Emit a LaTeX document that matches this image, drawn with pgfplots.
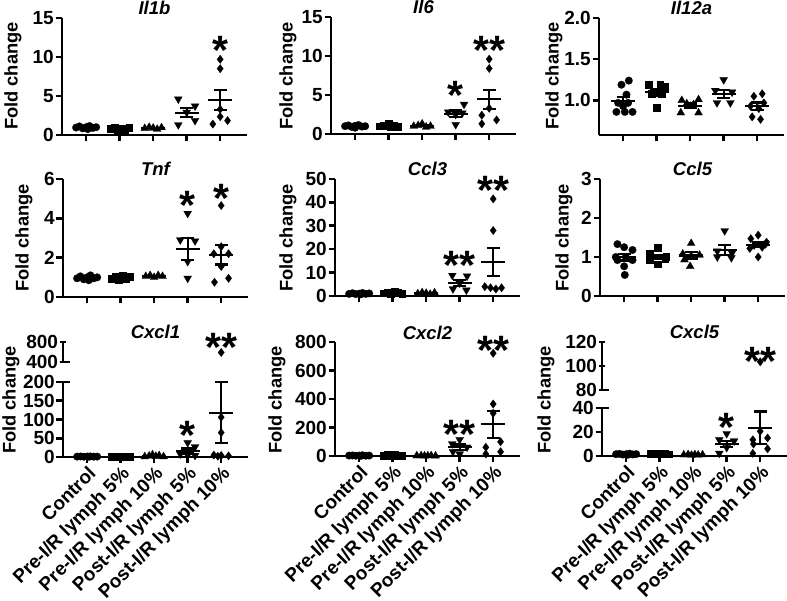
\documentclass[border=0pt]{standalone}
\usepackage{pgfplots}
\pgfplotsset{compat=1.18}
\usepackage{fontspec}
\setmainfont{Liberation Sans}
\newcommand\tickfont{\fontsize{19}{19}\selectfont\bfseries}
\newcommand\labfont{\fontsize{18.3}{20}\selectfont\bfseries}
\newcommand\titfont{\fontsize{18.5}{20}\selectfont\bfseries\itshape}
\newcommand\xlabfont{\fontsize{19}{20}\selectfont\bfseries}
\tikzset{sig/.style={font=\fontsize{41}{41}\selectfont\bfseries, inner sep=0pt, anchor=base, yshift=-22.5pt},
  flab/.style={rotate=90, font=\labfont, inner sep=0pt}}
\pgfplotsset{
 base/.style={scale only axis, width=185pt, xmin=-0.72, xmax=4.8, anchor=south west,
   axis lines=left, axis line style={-, line width=2.6pt}, tick style={line width=2.6pt, black},
   major tick length=6.5pt, tick align=outside, xtick={0,1,2,3,4}, xticklabels={}, clip=false,
   yticklabel style={font=\tickfont, inner sep=1.5pt}, /pgf/number format/assume math mode=true,
   title style={at={(0.5,1)}, anchor=base, yshift=-3pt, font=\titfont}},
 bottomx/.style={xticklabels={Control,Pre-I/R lymph 5\%,Pre-I/R lymph 10\%,Post-I/R lymph 5\%,Post-I/R lymph 10\%},
   xticklabel style={rotate=45, anchor=north east, font=\xlabfont, inner sep=1pt}},
 topseg/.style={axis x line=none, axis y line=left, axis line style={-, line width=2.6pt}, y axis line style={-}},
 brk/.style={extra y ticks={#1}, extra y tick labels={}, extra y tick style={tick align=inside}},
 gm/.style={only marks, black, mark options={fill=black, draw=black, line width=0.2pt}},
 g0/.style={gm, mark=*, mark size=3.8pt},
 g1/.style={gm, mark=square*, mark size=3.4pt},
 g2/.style={gm, mark=triangle*, mark size=4.6pt},
 g3/.style={gm, mark=triangle*, mark size=4.6pt, mark options={rotate=180, fill=black, draw=black, line width=0.2pt}},
 g4/.style={gm, mark=diamond*, mark size=4.2pt},
 ms/.style={only marks, black, mark=-, mark size=12pt, mark options={line width=2.2pt},
   error bars/.cd, y dir=both, y explicit, error bar style={line width=2.2pt, black},
   error mark options={rotate=90, line width=2.2pt, mark size=6.5pt, black}},
}
\begin{document}
\begin{tikzpicture}
\path[use as bounding box] (0,0) rectangle (787pt,601pt);
% ---------------- Row 1 ----------------
\begin{axis}[base, at={(62pt,466pt)}, height=117pt, ymin=0, ymax=15, ytick={0,5,10,15}, title={Il1b}]
\addplot[g0] coordinates {(-0.3,0.95)(-0.2,1.1)(-0.1,0.85)(0,1.0)(0.1,1.15)(0.2,0.9)(0.3,1.0)(0.05,0.75)};
\addplot[g1] coordinates {(0.72,0.8)(0.85,0.95)(0.95,0.65)(1.05,0.85)(1.15,0.7)(1.28,0.9)};
\addplot[g2] coordinates {(1.75,0.85)(1.88,1.0)(2,0.9)(2.12,0.75)(2.25,0.95)};
\addplot[g3] coordinates {(2.75,4.6)(3.25,3.7)(3,2.9)(2.75,1.3)(3.25,1.85)};
\addplot[g4] coordinates {(4,9.7)(4,8.5)(4,3.3)(3.78,1.4)(4,2.35)(4.22,1.85)};
\addplot[ms] coordinates {(0,0.96) +- (0,0.05) (1,0.81) +- (0,0.05) (2,0.89) +- (0,0.04) (3,2.86) +- (0,0.6) (4,4.5) +- (0,1.25)};
\node[sig] at (4,11.9) {*};
\end{axis}
\begin{axis}[base, at={(331pt,467pt)}, height=117pt, ymin=0, ymax=15, ytick={0,5,10,15}, title={Il6}]
\addplot[g0] coordinates {(-0.3,1.0)(-0.2,1.1)(-0.1,0.9)(0,1.05)(0.1,1.15)(0.2,0.95)(0.3,1.0)(0,0.8)};
\addplot[g1] coordinates {(0.72,1.0)(0.85,1.1)(1,1.35)(1.05,0.9)(1.15,1.05)(1.28,0.95)};
\addplot[g2] coordinates {(1.75,1.0)(1.88,1.1)(2,1.3)(2.12,0.9)(2.25,1.0)};
\addplot[g3] coordinates {(3.25,3.8)(2.78,2.8)(3.2,2.7)(3,2.5)(3,1.2)};
\addplot[g4] coordinates {(4,9.6)(4,8.4)(4,3.3)(3.78,2.4)(3.78,1.3)(4.22,1.8)};
\addplot[ms] coordinates {(0,0.99) +- (0,0.04) (1,1.06) +- (0,0.07) (2,1.06) +- (0,0.07) (3,2.6) +- (0,0.42) (4,4.45) +- (0,1.2)};
\node[sig] at (3,6.0) {*};
\node[sig] at (4,11.8) {**};
\end{axis}
\begin{axis}[base, at={(599pt,466pt)}, height=117pt, ymin=0.58, ymax=2.0, ytick={1.0,1.5,2.0},
  yticklabel style={/pgf/number format/fixed, /pgf/number format/fixed zerofill, /pgf/number format/precision=1}, title={Il12a}]
\addplot[g0] coordinates {(0.17,1.24)(-0.05,1.19)(0.1,1.07)(-0.15,0.97)(0.15,0.97)(0,0.93)(-0.2,0.86)(0.05,0.86)(0.28,0.86)};
\addplot[g1] coordinates {(0.75,1.19)(1.1,1.19)(1.25,1.17)(0.85,1.08)(1.15,1.08)(1,0.91)};
\addplot[g2] coordinates {(1.75,1.0)(2.25,1.01)(1.9,0.96)(2.1,0.95)(2,0.93)(1.72,0.85)(2.25,0.85)};
\addplot[g3] coordinates {(3,1.25)(2.75,1.12)(3.25,1.10)(2.8,0.97)(3.2,0.97)};
\addplot[g4] coordinates {(4.15,1.08)(3.9,1.05)(4.2,0.97)(3.8,0.93)(4.05,0.90)(3.85,0.80)(4.1,0.77)};
\addplot[ms] coordinates {(0,0.995) +- (0,0.05) (1,1.10) +- (0,0.04) (2,0.936) +- (0,0.025) (3,1.08) +- (0,0.05) (4,0.93) +- (0,0.045)};
\end{axis}
% ---------------- Row 2 ----------------
\begin{axis}[base, at={(63pt,304pt)}, height=118pt, ymin=0, ymax=6, ytick={0,2,4,6}, title={Tnf}]
\addplot[g0] coordinates {(-0.3,0.95)(-0.2,1.05)(-0.1,0.9)(0,1.0)(0.1,1.1)(0.2,0.95)(0.3,1.0)(0.05,0.85)};
\addplot[g1] coordinates {(0.72,0.95)(0.85,1.05)(0.95,0.9)(1.05,1.1)(1.15,0.95)(1.28,1.05)};
\addplot[g2] coordinates {(1.75,1.05)(1.88,1.1)(2,1.0)(2.12,1.1)(2.25,1.05)};
\addplot[g3] coordinates {(3,4.25)(2.78,2.9)(3.22,2.85)(3,1.8)(3,0.95)};
\addplot[g4] coordinates {(4,4.65)(4,2.56)(3.78,2.2)(4.22,2.2)(4,1.55)(3.8,0.75)(4.22,0.95)};
\addplot[ms] coordinates {(0,0.98) +- (0,0.03) (1,1.0) +- (0,0.03) (2,1.06) +- (0,0.02) (3,2.45) +- (0,0.55) (4,2.15) +- (0,0.5)};
\node[sig] at (3,5.1) {*};
\node[sig] at (4,5.44) {*};
\end{axis}
\begin{axis}[base, at={(335pt,305pt)}, height=117pt, ymin=0, ymax=50, ytick={0,10,20,30,40,50}, title={Ccl3}]
\addplot[g0] coordinates {(-0.3,0.9)(-0.2,1.2)(-0.1,0.8)(0,1.0)(0.1,1.3)(0.2,0.9)(0.3,1.1)(0.05,0.7)};
\addplot[g1] coordinates {(0.72,1.2)(0.85,1.6)(0.95,1.0)(1.05,1.8)(1.15,1.3)(1.28,1.1)};
\addplot[g2] coordinates {(1.75,1.0)(1.88,1.5)(2,1.2)(2.12,0.8)(2.25,1.4)};
\addplot[g3] coordinates {(2.78,8.8)(3.22,8.5)(3,5.5)(2.8,3)(3.2,2.5)};
\addplot[g4] coordinates {(4,41.5)(4,28)(3.75,4)(3.92,3.5)(4.08,3)(4.25,3.5)};
\addplot[ms] coordinates {(0,1.0) +- (0,0.07) (1,1.33) +- (0,0.12) (2,1.18) +- (0,0.13) (3,5.6) +- (0,1.3) (4,14.5) +- (0,6)};
\node[sig] at (3,16.7) {**};
\node[sig] at (4,48.8) {**};
\end{axis}
\begin{axis}[base, at={(600pt,305pt)}, height=117pt, ymin=0, ymax=3, ytick={0,1,2,3}, title={Ccl5}]
\addplot[g0] coordinates {(-0.2,1.33)(0,1.25)(0.25,1.18)(-0.25,1.0)(0.05,1.0)(-0.2,0.92)(0.25,0.92)(0,0.76)(0.02,0.54)};
\addplot[g1] coordinates {(1,1.25)(0.77,1.1)(1.25,1.0)(0.77,0.93)(1.22,0.95)(1,0.82)};
\addplot[g2] coordinates {(2,1.35)(1.75,1.08)(2.25,1.05)(2,1.02)(1.8,0.93)(1.97,0.76)};
\addplot[g3] coordinates {(3,1.67)(2.78,1.15)(3.22,1.1)(2.78,1.0)(3.2,0.98)};
\addplot[g4] coordinates {(4,1.56)(3.78,1.47)(4.22,1.33)(3.88,1.3)(4.12,1.25)(3.75,1.22)(4.25,1.38)(4,1.0)};
\addplot[ms] coordinates {(0,0.99) +- (0,0.08) (1,1.0) +- (0,0.06) (2,1.04) +- (0,0.08) (3,1.18) +- (0,0.12) (4,1.31) +- (0,0.06)};
\end{axis}
% ---------------- Row 3 ----------------
% Cxcl1 (broken axis)
\begin{axis}[base, bottomx, at={(63pt,144pt)}, height=75pt, ymin=0, ymax=200, ytick={0,50,100,150,200}, brk=200]
\addplot[g0] coordinates {(-0.3,1)(-0.2,1.5)(-0.1,0.8)(0,1.2)(0.1,1.6)(0.2,0.9)(0.3,1.1)(0.05,0.7)};
\addplot[g1] coordinates {(0.72,1.5)(0.85,2.2)(0.95,1.2)(1.05,2.5)(1.15,1.8)(1.28,1.4)};
\addplot[g2] coordinates {(1.72,1)(1.85,3)(1.95,6)(2.05,2)(2.15,4)(2.28,1)};
\addplot[g3] coordinates {(3,38)(3.22,27)(2.78,8)(3,5)(3.22,4)};
\addplot[g4] coordinates {(4,106)(4,65)(3.78,5)(4,4)(4.22,3)(3.9,2)};
\addplot[ms] coordinates {(0,1.1) +- (0,0.1) (1,1.8) +- (0,0.2) (2,2.8) +- (0,0.8) (3,16) +- (0,6.5) (4,118) +- (0,81)};
\node[sig] at (3,80) {*};
\end{axis}
\begin{axis}[base, topseg, at={(63pt,239pt)}, height=20pt, ymin=400, ymax=800, ytick={400,800}, brk=400, title={Cxcl1}]
\addplot[g4] coordinates {(4,590)};
\node[sig] at (4,854) {**};
\end{axis}
% Cxcl2
\begin{axis}[base, bottomx, at={(335pt,145pt)}, height=114pt, ymin=0, ymax=800, ytick={0,200,400,600,800}, title={Cxcl2}]
\addplot[g0] coordinates {(-0.3,3)(-0.2,4)(-0.1,2)(0,3)(0.1,5)(0.2,2)(0.3,3)(0.05,1)};
\addplot[g1] coordinates {(0.72,5)(0.85,7)(0.95,4)(1.05,8)(1.15,5)(1.28,4)};
\addplot[g2] coordinates {(1.72,2)(1.85,3)(1.95,1)(2.05,2)(2.15,3)(2.28,1)};
\addplot[g3] coordinates {(3,115)(2.78,85)(3.22,62)(2.8,30)(3,14)};
\addplot[g4] coordinates {(4,721)(4,365)(4,300)(4.22,100)(3.78,61)(4.22,30)(3.78,14)};
\addplot[ms] coordinates {(0,2.9) +- (0,0.5) (1,5.5) +- (0,0.7) (2,2) +- (0,0.3) (3,61) +- (0,19) (4,222) +- (0,95)};
\node[sig] at (3,210) {**};
\node[sig] at (4,801) {**};
\end{axis}
% Cxcl5 (broken axis)
\begin{axis}[base, bottomx, at={(602pt,145pt)}, height=48pt, ymin=0, ymax=40, ytick={0,20,40}, brk=40]
\addplot[g0] coordinates {(-0.3,1.5)(-0.2,1.8)(-0.1,1.2)(0,1.5)(0.1,2)(0.2,1.3)(0.3,1.6)(0.05,1)};
\addplot[g1] coordinates {(0.72,1.8)(0.85,2.2)(0.95,1.5)(1.05,2.4)(1.15,1.8)(1.28,1.6)};
\addplot[g2] coordinates {(1.72,1)(1.85,1.3)(1.95,0.7)(2.05,1.2)(2.15,0.9)(2.28,1.1)};
\addplot[g3] coordinates {(3,18.6)(2.78,13.5)(3.22,12.5)(3,7)(2.78,2.2)};
\addplot[g4] coordinates {(4,20.6)(4.22,15)(3.78,13.5)(3.8,10)(4.22,6)(3.78,2.2)};
\addplot[ms] coordinates {(0,1.5) +- (0,0.1) (1,1.9) +- (0,0.15) (2,1.0) +- (0,0.1) (3,10) +- (0,2.8) (4,23.6) +- (0,13.5)};
\node[sig] at (3,30.6) {*};
\end{axis}
\begin{axis}[base, topseg, at={(602pt,211pt)}, height=48pt, ymin=80, ymax=120, ytick={80,100,120}, brk=80, title={Cxcl5}]
\addplot[g4] coordinates {(4,103.5)};
\node[sig] at (4,110.6) {**};
\end{axis}
% y labels
\node[flab] at (13pt,525pt) {Fold change};
\node[flab] at (288pt,525pt) {Fold change};
\node[flab] at (554pt,525pt) {Fold change};
\node[flab] at (24pt,363pt) {Fold change};
\node[flab] at (288pt,363pt) {Fold change};
\node[flab] at (564pt,363pt) {Fold change};
\node[flab] at (11pt,201pt) {Fold change};
\node[flab] at (277pt,201pt) {Fold change};
\node[flab] at (546pt,201pt) {Fold change};
\end{tikzpicture}
\end{document}
